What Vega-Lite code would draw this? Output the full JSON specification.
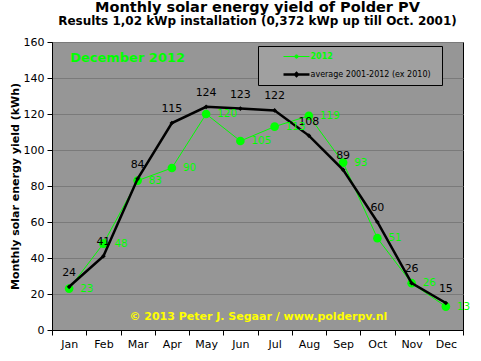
{
  "$schema": "https://vega.github.io/schema/vega-lite/v6.json",
  "width": 411,
  "height": 288,
  "autosize": {"type": "none"},
  "padding": {"left": 52, "top": 42, "right": 18, "bottom": 31},
  "background": "white",
  "title": {
    "text": "Monthly solar energy yield of Polder PV",
    "subtitle": "Results 1,02 kWp installation (0,372 kWp up till Oct. 2001)",
    "font": "DejaVu Sans",
    "fontSize": 14.5,
    "fontWeight": "bold",
    "color": "black",
    "subtitleFont": "DejaVu Sans",
    "subtitleFontSize": 12,
    "subtitleFontWeight": "bold",
    "subtitleColor": "black",
    "subtitlePadding": 1,
    "offset": 8,
    "anchor": "middle",
    "frame": "group"
  },
  "data": {
    "values": [
      {"month": "Jan", "series": "2012", "value": 23},
      {"month": "Feb", "series": "2012", "value": 48},
      {"month": "Mar", "series": "2012", "value": 83},
      {"month": "Apr", "series": "2012", "value": 90},
      {"month": "May", "series": "2012", "value": 120},
      {"month": "Jun", "series": "2012", "value": 105},
      {"month": "Jul", "series": "2012", "value": 113},
      {"month": "Aug", "series": "2012", "value": 119},
      {"month": "Sep", "series": "2012", "value": 93},
      {"month": "Oct", "series": "2012", "value": 51},
      {"month": "Nov", "series": "2012", "value": 26},
      {"month": "Dec", "series": "2012", "value": 13},
      {"month": "Jan", "series": "average 2001-2012 (ex 2010)", "value": 24},
      {"month": "Feb", "series": "average 2001-2012 (ex 2010)", "value": 41},
      {"month": "Mar", "series": "average 2001-2012 (ex 2010)", "value": 84},
      {"month": "Apr", "series": "average 2001-2012 (ex 2010)", "value": 115},
      {"month": "May", "series": "average 2001-2012 (ex 2010)", "value": 124},
      {"month": "Jun", "series": "average 2001-2012 (ex 2010)", "value": 123},
      {"month": "Jul", "series": "average 2001-2012 (ex 2010)", "value": 122},
      {"month": "Aug", "series": "average 2001-2012 (ex 2010)", "value": 108},
      {"month": "Sep", "series": "average 2001-2012 (ex 2010)", "value": 89},
      {"month": "Oct", "series": "average 2001-2012 (ex 2010)", "value": 60},
      {"month": "Nov", "series": "average 2001-2012 (ex 2010)", "value": 26},
      {"month": "Dec", "series": "average 2001-2012 (ex 2010)", "value": 15}
    ]
  },
  "layer": [
    {
      "encoding": {
        "x": {
          "field": "month",
          "type": "nominal",
          "sort": ["Jan", "Feb", "Mar", "Apr", "May", "Jun", "Jul", "Aug", "Sep", "Oct", "Nov", "Dec"],
          "bandPosition": 0.5,
          "scale": {"type": "band", "paddingInner": 0, "paddingOuter": 0},
          "axis": {"title": null, "labelAngle": 0, "tickBand": "extent", "grid": false}
        },
        "y": {
          "field": "value",
          "type": "quantitative",
          "scale": {"domain": [0, 160], "nice": false},
          "axis": {"title": "Monthly solar energy yield (kWh)", "values": [0, 20, 40, 60, 80, 100, 120, 140, 160], "grid": true}
        }
      },
      "layer": [
        {
          "transform": [{"filter": "datum.series == '2012'"}],
          "mark": {"type": "point", "filled": true, "shape": "circle", "size": 75, "color": "#00ff00", "opacity": 1}
        },
        {
          "mark": {"type": "line"},
          "encoding": {
            "strokeWidth": {
              "field": "series",
              "type": "nominal",
              "scale": {"domain": ["2012", "average 2001-2012 (ex 2010)"], "range": [1, 2.5]},
              "legend": null
            },
            "color": {
              "field": "series",
              "type": "nominal",
              "scale": {"domain": ["2012", "average 2001-2012 (ex 2010)"], "range": ["#00ff00", "#000000"]},
              "legend": {
                "orient": "none",
                "legendX": 206,
                "legendY": 4,
                "title": "\u00a0",
                "titleOrient": "right",
                "titlePadding": 8,
                "titleFontSize": 8,
                "fillColor": "#a0a0a0",
                "strokeColor": "black",
                "padding": 3.5,
                "rowPadding": 6,
                "symbolSize": 169,
                "symbolOffset": 27,
                "labelOffset": 6,
                "labelLimit": 400,
                "labelFont": "DejaVu Sans",
                "labelFontSize": 8,
                "labelColor": "black",
                "symbolType": "M-2,0H2",
                "encode": {
                  "symbols": {
                    "update": {
                      "shape": {"signal": "datum.value == '2012' ? 'M-2,0H2M0.25,0A0.25,0.25,0,1,1,-0.25,0A0.25,0.25,0,1,1,0.25,0Z' : 'M-2,0H2M0.22,0L0,0.22L-0.22,0L0,-0.22Z'"},
                      "strokeWidth": {"signal": "datum.value == '2012' ? 1 : 2.5"},
                      "stroke": {"signal": "datum.value == '2012' ? '#00ff00' : '#000000'"},
                      "fill": {"signal": "datum.value == '2012' ? '#00ff00' : '#000000'"},
                      "opacity": {"value": 1}
                    }
                  },
                  "labels": {
                    "update": {
                      "fill": {"signal": "datum.value == '2012' ? '#00ff00' : '#000000'"},
                      "fontWeight": {"signal": "datum.value == '2012' ? 'bold' : 'normal'"}
                    }
                  },
                  "legend": {"update": {"strokeWidth": {"value": 1}}}
                }
              }
            }
          }
        },
        {
          "transform": [{"filter": "datum.series != '2012'"}],
          "mark": {"type": "point", "filled": true, "shape": "diamond", "size": 22, "color": "black", "opacity": 1}
        },
        {
          "transform": [{"filter": "datum.series != '2012'"}],
          "mark": {"type": "text", "dy": -14, "baseline": "middle", "align": "center", "font": "DejaVu Sans", "fontSize": 11, "color": "black"},
          "encoding": {"text": {"field": "value", "type": "quantitative"}}
        },
        {
          "transform": [{"filter": "datum.series == '2012'"}],
          "mark": {"type": "text", "dx": 11, "baseline": "middle", "align": "left", "font": "DejaVu Sans", "fontSize": 10.5, "color": "#00ff00"},
          "encoding": {"text": {"field": "value", "type": "quantitative"}}
        }
      ]
    },
    {
      "data": {"values": [{"note": "December 2012"}]},
      "mark": {"type": "text", "align": "left", "baseline": "middle", "dx": 1, "font": "DejaVu Sans", "fontSize": 13, "fontWeight": "bold", "color": "#00ff00"},
      "encoding": {
        "text": {"field": "note", "type": "nominal"},
        "x": {"datum": "Jan", "type": "nominal", "axis": {"title": null, "labelAngle": 0, "tickBand": "extent", "grid": false}},
        "y": {"datum": 151, "type": "quantitative", "axis": {"title": "Monthly solar energy yield (kWh)", "values": [0, 20, 40, 60, 80, 100, 120, 140, 160], "grid": true}}
      }
    },
    {
      "data": {"values": [{"note": "© 2013 Peter J. Segaar / www.polderpv.nl"}]},
      "mark": {"type": "text", "align": "center", "baseline": "middle", "dx": 18, "font": "DejaVu Sans", "fontSize": 11, "fontWeight": "bold", "color": "#ffff00"},
      "encoding": {
        "text": {"field": "note", "type": "nominal"},
        "x": {"datum": "Jun", "type": "nominal", "axis": {"title": null, "labelAngle": 0, "tickBand": "extent", "grid": false}},
        "y": {"datum": 7.2, "type": "quantitative", "axis": {"title": "Monthly solar energy yield (kWh)", "values": [0, 20, 40, 60, 80, 100, 120, 140, 160], "grid": true}}
      }
    }
  ],
  "config": {
    "view": {"fill": "#969696", "stroke": "black", "strokeWidth": 1},
    "axis": {
      "domainColor": "black",
      "tickColor": "black",
      "tickSize": 5,
      "labelPadding": 3,
      "labelFont": "DejaVu Sans",
      "labelFontSize": 11,
      "labelColor": "black",
      "titleFont": "DejaVu Sans",
      "titleFontSize": 11,
      "titleFontWeight": "bold",
      "titleColor": "black",
      "titlePadding": 3,
      "gridColor": "#7a7a7a",
      "gridWidth": 1
    }
  }
}
